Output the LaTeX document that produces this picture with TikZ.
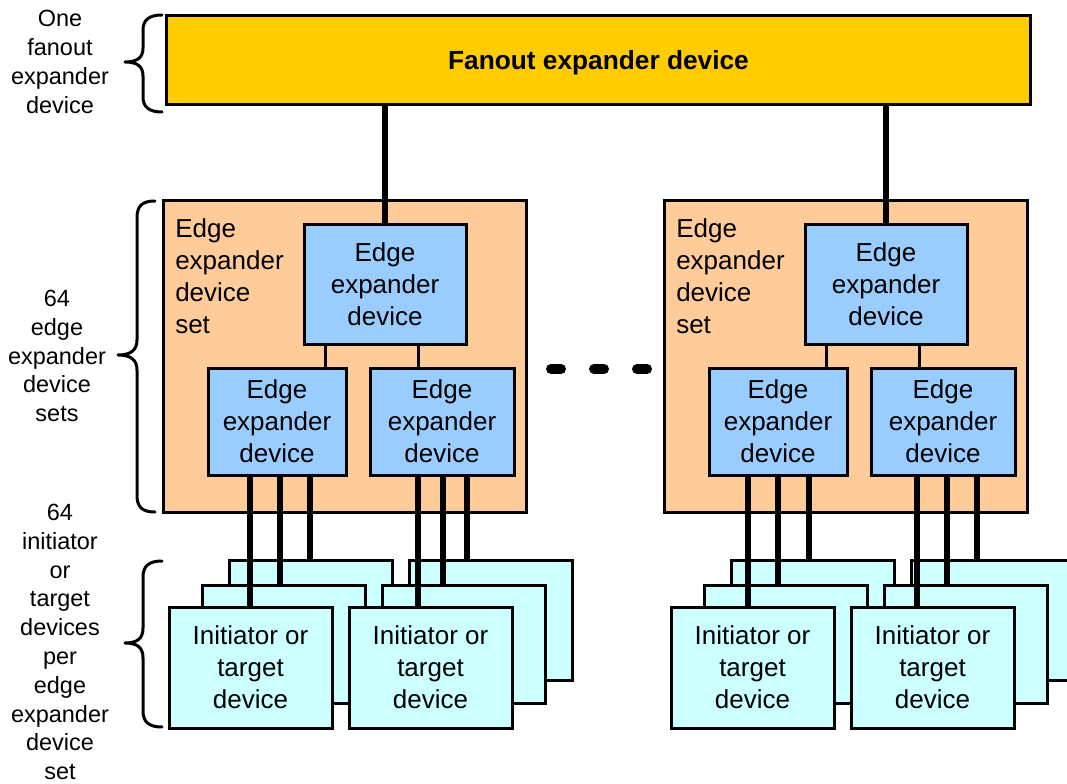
\documentclass[tikz,border=0pt]{standalone}
\usepackage{fontspec}
\setmainfont{Liberation Sans}
\usetikzlibrary{calc}
\definecolor{fanfill}{HTML}{FFCC00}
\definecolor{setfill}{HTML}{FFCC99}
\definecolor{edgefill}{HTML}{99CCFF}
\definecolor{inifill}{HTML}{CCFFFF}
\begin{document}
\begin{tikzpicture}[x=0.75pt,y=-0.75pt,
  wh/.style 2 args={minimum width=#1*0.75pt, minimum height=#2*0.75pt},
  box/.style={draw=black, line width=2.25pt, inner sep=0pt, outer sep=0pt,
    align=center, anchor=north west, font=\fontsize{19.5}{24}\selectfont},
  fanbox/.style={box, fill=fanfill},
  setbox/.style={box, fill=setfill},
  edgebox/.style={box, fill=edgefill},
  inibox/.style={box, fill=inifill},
  boxtext/.style={inner sep=0pt, font=\fontsize{19.5}{24}\selectfont},
  sidetext/.style={inner sep=0pt, align=center, font=\fontsize{17.6}{21.6}\selectfont},
  thinwire/.style={line width=2.25pt},
  thickwire/.style={line width=3.9pt},
  bracket/.style={line width=2.25pt, line cap=round, line join=round},
  ellipsisdot/.style={line width=7.5pt, line cap=round}
]
\useasboundingbox (0,0) rectangle (1067,784);

% top-level fanout expander
\node[fanbox, wh={864}{89}] (fan) at (166,16) {};
\node[inner sep=0pt, font=\bfseries\fontsize{19.7}{24}\selectfont] (fantitle)
  at (598.5,63) {Fanout expander device};

% the two edge expander device sets
\foreach \s/\dx in {L/0,R/501}{
  \node[setbox, wh={363}{311}] (set\s) at (163+\dx,201) {};
  \node[boxtext, anchor=west, align=left] (setlbl\s) at (175+\dx,276)
    {Edge\\expander\\device\\set};
  \node[edgebox, wh={162}{119}] (top\s) at (304+\dx,225) {Edge\\expander\\device};
  \node[edgebox, wh={138}{107}] (bl\s1) at (208+\dx,368) {Edge\\expander\\device};
  \node[edgebox, wh={144}{107}] (bl\s2) at (370+\dx,368) {Edge\\expander\\device};
  \draw[thickwire] (top\s.north) -- (top\s.north |- fan.south);
  \coordinate (ta\s) at (325+\dx,0);
  \coordinate (tb\s) at (418+\dx,0);
  \draw[thinwire] (top\s.south -| ta\s) -- (bl\s1.north -| ta\s);
  \draw[thinwire] (top\s.south -| tb\s) -- (bl\s2.north -| tb\s);
}

% ellipsis between the sets
\draw[ellipsisdot] (551,369) -- (561,369);
\draw[ellipsisdot] (594,369) -- (604,369);
\draw[ellipsisdot] (637,369) -- (647,369);

% stacks of initiator or target devices
\foreach \n/\f in {L1/169, L2/349, R1/671, R2/851}{
  \node[inibox, wh={163}{120}] (back\n) at (\f+60,560) {};
  \node[inibox, wh={163}{118}] (mid\n) at (\f+33,585) {};
  \node[inibox, wh={163}{121}] (front\n) at (\f,607) {Initiator or\\target\\device};
}

% links from edge expanders down to the device stacks
\foreach \n/\a/\b/\c in {L1/250/280/310, L2/418/443/467, R1/748/778/809, R2/917/947/977}{
  \coordinate (pa\n) at (\a,0);
  \coordinate (pb\n) at (\b,0);
  \coordinate (pc\n) at (\c,0);
  \draw[thickwire] (bl\n.south -| pa\n) -- (front\n.north -| pa\n);
  \draw[thickwire] (bl\n.south -| pb\n) -- (mid\n.north -| pb\n);
  \draw[thickwire] (bl\n.south -| pc\n) -- (back\n.north -| pc\n);
}

% braces and side captions
\draw[bracket] (162,15) .. controls (149,15) and (143,20) .. (143,30) -- (143,48)
  .. controls (143,57) and (138,62) .. (125,62)
  .. controls (138,62) and (143,67) .. (143,76) -- (143,97)
  .. controls (143,107) and (149,112) .. (162,112);
\draw[bracket] (155,201) .. controls (142,201) and (137,206) .. (137,218) -- (137,340)
  .. controls (137,350) and (131,355) .. (118,355)
  .. controls (131,355) and (137,360) .. (137,370) -- (137,495)
  .. controls (137,507) and (142,512) .. (155,512);
\draw[bracket] (162,561) .. controls (149,561) and (143,566) .. (143,577) -- (143,628)
  .. controls (143,638) and (138,643) .. (125,643)
  .. controls (138,643) and (143,648) .. (143,658) -- (143,711)
  .. controls (143,722) and (149,727) .. (162,727);

\node[sidetext] (capfan) at (60,62) {One\\fanout\\expander\\device};
\node[sidetext] (capset) at (57,356) {64\\edge\\expander\\device\\sets};
\node[sidetext] (capini) at (60,642) {64\\initiator\\or\\target\\devices\\per\\edge\\expander\\device\\set};
\end{tikzpicture}
\end{document}
